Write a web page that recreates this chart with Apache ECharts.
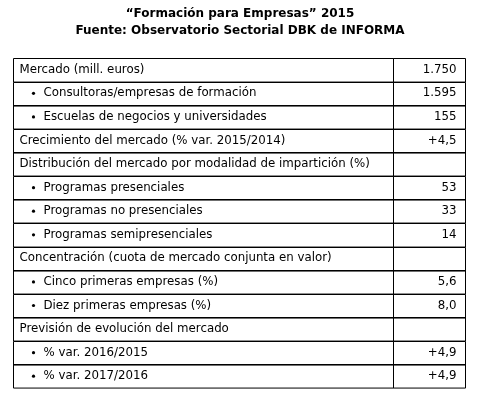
<!DOCTYPE html>
<html lang="es">
<head>
<meta charset="UTF-8">
<script src="https://cdn.jsdelivr.net/npm/echarts@6/dist/echarts.min.js"></script>
</head>
<body style="margin:0;background:#fff">
<div id="main" style="width:480px;height:402px"></div>
<script>
    // filas de la tabla
    var labels = [
        'Mercado (mill. euros)',
        'Consultoras/empresas de formación',
        'Escuelas de negocios y universidades',
        'Crecimiento del mercado (% var. 2015/2014)',
        'Distribución del mercado por modalidad de impartición (%)',
        'Programas presenciales',
        'Programas no presenciales',
        'Programas semipresenciales',
        'Concentración (cuota de mercado conjunta en valor)',
        'Cinco primeras empresas (%)',
        'Diez primeras empresas (%)',
        'Previsión de evolución del mercado',
        '% var. 2016/2015',
        '% var. 2017/2016'
    ];
    var values = ['1.750', '1.595', '155', '+4,5', '', '53', '33', '14', '', '5,6', '8,0', '', '+4,9', '+4,9'];
    var bullet = [0, 1, 1, 0, 0, 1, 1, 1, 0, 1, 1, 0, 1, 1];
    var titles = ['\u201cFormación para Empresas\u201d 2015', 'Fuente: Observatorio Sectorial DBK de INFORMA'];

    var split = 0.8407; // posición de la columna de valores
    var font = '11.8px "DejaVu Sans", Verdana, sans-serif';

    var myChart = echarts.init(document.getElementById('main'));
    var titleStyle = {fontFamily: 'DejaVu Sans', fontSize: 12, fontWeight: 'bold', color: '#000'};
    var option = {
        backgroundColor: '#fff',
        animation: false,
        title: [
            {text: titles[0], left: 'center', top: 8, padding: 0, textStyle: titleStyle},
            {text: titles[1], left: 'center', top: 25, padding: 0, textStyle: titleStyle}
        ],
        grid: {left: 13, right: 15, top: 58, bottom: 14},
        xAxis: {type: 'value', min: 0, max: 1, show: false},
        yAxis: {type: 'category', data: labels, inverse: true, show: false},
        series: [{
            type: 'custom',
            data: labels.map(function (l, i) { return [i, l, values[i], bullet[i]]; }),
            encode: {y: 1},
            renderItem: function (params, api) {
                var i = api.value(0);
                var sz = api.size([0, 1]);
                var p0 = api.coord([0, labels[i]]);
                var pm = api.coord([split, labels[i]]);
                var p1 = api.coord([1, labels[i]]);
                var h = sz[1];
                var top = Math.round(p0[1] - h / 2) + 0.5;
                var x0 = Math.round(p0[0]) + 0.5, xm = Math.round(pm[0]) + 0.5, x1 = Math.round(p1[0]) + 0.5;
                var cy = p0[1];
                var b = bullet[i];
                var children = [
                    {type: 'rect', shape: {x: x0, y: top, width: xm - x0, height: h},
                        style: {fill: 'none', stroke: '#000', lineWidth: 1}},
                    {type: 'rect', shape: {x: xm, y: top, width: x1 - xm, height: h},
                        style: {fill: 'none', stroke: '#000', lineWidth: 1}},
                    {type: 'text', x: x0 + (b ? 30 : 6), y: cy,
                        style: {text: labels[i], font: font, fill: '#000', verticalAlign: 'middle'}},
                    {type: 'text', x: x1 - 9, y: cy,
                        style: {text: values[i], font: font, fill: '#000', align: 'right', verticalAlign: 'middle'}}
                ];
                if (b) {
                    children.push({type: 'circle', shape: {cx: x0 + 20, cy: cy, r: 1.6}, style: {fill: '#000'}});
                }
                return {type: 'group', children: children};
            }
        }]
    };
    myChart.setOption(option);
</script>
</body>
</html>
